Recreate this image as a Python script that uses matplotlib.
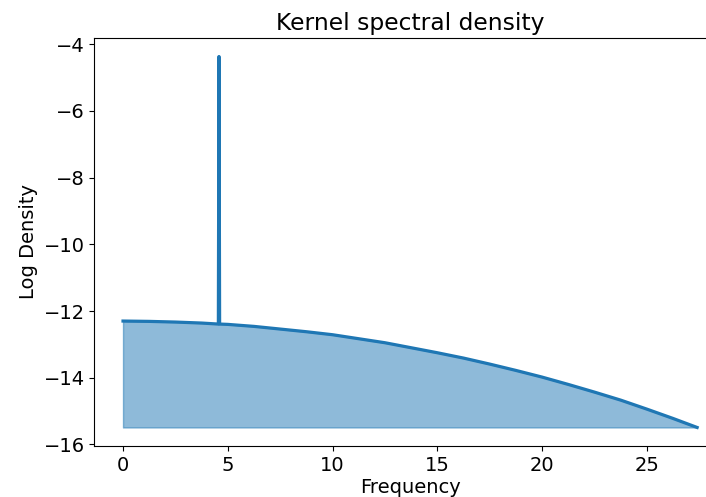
import matplotlib
matplotlib.use('Agg')
import matplotlib.pyplot as plt

plt.rcParams['font.size'] = 14

# Log spectral density of the learned kernel, sampled over frequency.
# The narrow spike near 4.6 is the periodic component.
freqs = [0.0, 1.25, 2.5, 3.75, 4.55, 4.58, 4.61, 5.0, 6.25, 7.5, 8.75,
         10.0, 11.25, 12.5, 13.75, 15.0, 16.25, 17.5, 18.75, 20.0,
         21.25, 22.5, 23.75, 25.0, 26.25, 27.4]
log_density = [-12.30, -12.31, -12.33, -12.36, -12.39, -4.37, -12.39, -12.40,
               -12.46, -12.54, -12.62, -12.71, -12.83, -12.95, -13.10, -13.25,
               -13.41, -13.59, -13.78, -13.98, -14.20, -14.43, -14.67, -14.94,
               -15.22, -15.49]

fig = plt.figure(figsize=(7.06, 4.97), dpi=100)
# axes run past the right edge, so the right spine is cut off
ax = fig.add_axes([0.1336, 0.1026, 0.8945, 0.821])

ax.plot(freqs, log_density, color='tab:blue', lw=2.3)
ax.fill_between(freqs, log_density, min(log_density), color='tab:blue', alpha=0.5)

ax.set_title('Kernel spectral density')
ax.set_xlabel('Frequency', labelpad=2)
ax.set_ylabel('Log Density')
ax.set_xticks([0, 5, 10, 15, 20, 25])
ax.set_yticks([-16, -14, -12, -10, -8, -6, -4])

fig.savefig('out.png', dpi=100)
